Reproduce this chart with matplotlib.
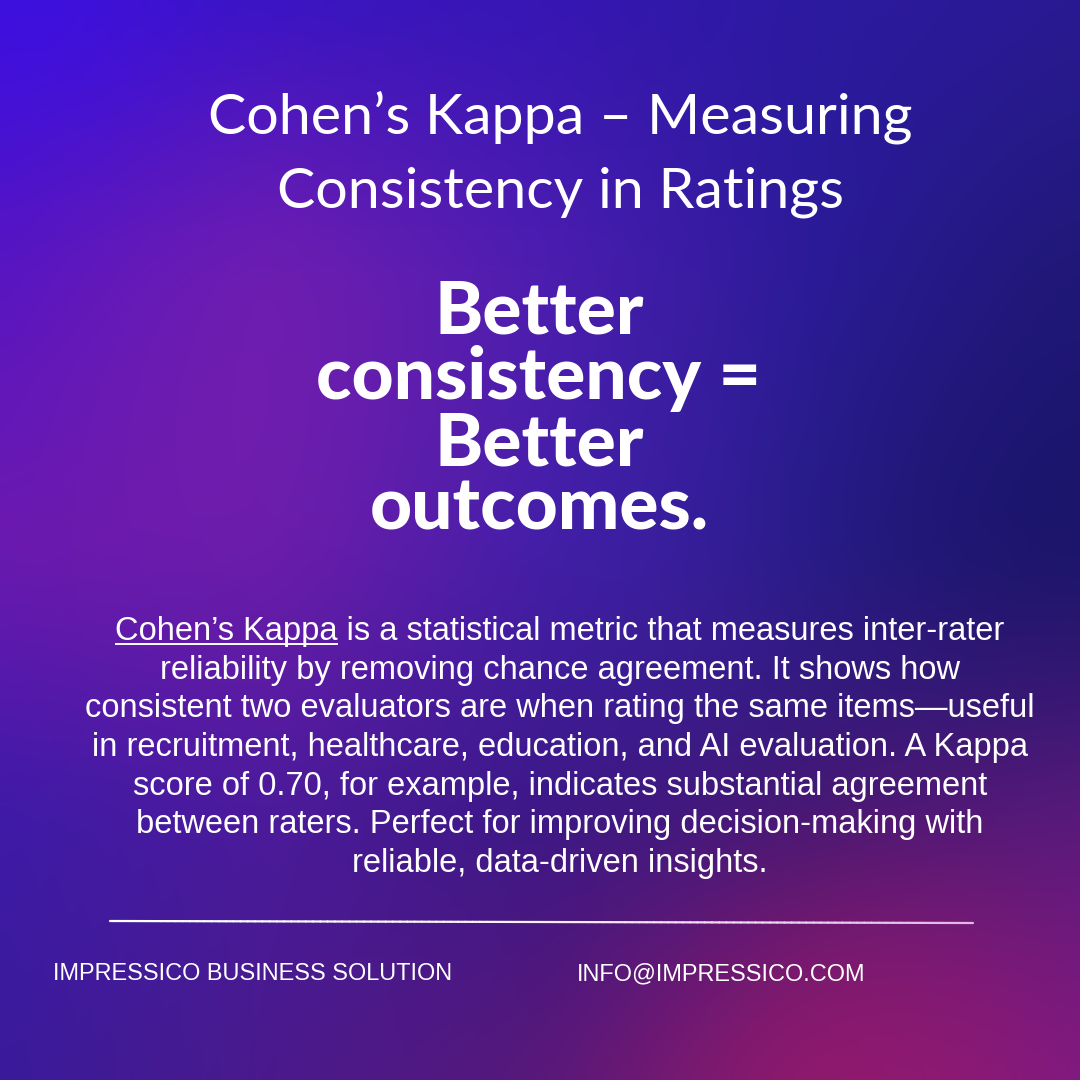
import numpy as np
import matplotlib
matplotlib.use('Agg')
import matplotlib.pyplot as plt
from matplotlib.colors import to_rgb
from matplotlib.collections import LineCollection

# text content of the poster
title_lines = ["Cohen’s Kappa – Measuring", "Consistency in Ratings"]
headline_lines = ["Better", "consistency =", "Better", "outcomes."]
body_lines = [
    "Cohen’s Kappa is a statistical metric that measures inter-rater",
    "reliability by removing chance agreement. It shows how",
    "consistent two evaluators are when rating the same items—useful",
    "in recruitment, healthcare, education, and AI evaluation. A Kappa",
    "score of 0.70, for example, indicates substantial agreement",
    "between raters. Perfect for improving decision-making with",
    "reliable, data-driven insights.",
]
underlined = "Cohen’s Kappa"
footer_left = "IMPRESSICO BUSINESS SOLUTION"
footer_right = "INFO@IMPRESSICO.COM"

# background colour grid (5 x 5 control points, top row first)
bg_grid = [
    ["#3c10d8", "#3a14c4", "#3616b4", "#2c1aa0", "#2a1a92"],
    ["#5414c4", "#6a1cb2", "#4a1cb0", "#2a1a98", "#201878"],
    ["#6a18b0", "#661aa8", "#3c1aa6", "#241a88", "#1c1670"],
    ["#3e1aa8", "#4a1a9a", "#3a1682", "#3c1670", "#561a7c"],
    ["#3a1a9a", "#4a1a8c", "#56187a", "#861a6a", "#7a1a86"],
]

W = 1080
fig = plt.figure(figsize=(10.8, 10.8), dpi=100)
ax = fig.add_axes([0, 0, 1, 1])
ax.set_xlim(0, W)
ax.set_ylim(W, 0)
ax.axis('off')

# build a smooth gradient image from the grid
n = 216
grid = np.array([[to_rgb(c) for c in row] for row in bg_grid])
knots = np.linspace(0, W, grid.shape[0])
px = np.linspace(0, W, n)
tmp = np.array([[np.interp(px, knots, grid[r, :, ch]) for ch in range(3)] for r in range(grid.shape[0])])
img = np.zeros((n, n, 3))
for ch in range(3):
    for j in range(n):
        img[:, j, ch] = np.interp(px, knots, tmp[:, ch, j])

yy, xx = np.meshgrid(px, px, indexing='ij')


def blob(cx, cy, sig, col, k):
    w = k * np.exp(-((xx - cx)**2 + (yy - cy)**2) / (2 * sig**2))
    return img * (1 - w[..., None]) + np.array(to_rgb(col)) * w[..., None]


img = blob(260, 430, 170, "#7a20ae", 0.45)
img = blob(640, 560, 190, "#4a2cb0", 0.25)
img = blob(890, 1070, 150, "#9a1a6e", 0.55)
img = blob(1010, 520, 140, "#16125c", 0.35)
img = blob(40, 20, 90, "#4010e6", 0.5)

# soften the bilinear creases
k = np.exp(-np.linspace(-3, 3, 31)**2 / 2)
k /= k.sum()
pad = 15
for ch in range(3):
    a = np.pad(img[..., ch], pad, mode='edge')
    a = np.apply_along_axis(lambda r: np.convolve(r, k, mode='same'), 0, a)
    a = np.apply_along_axis(lambda r: np.convolve(r, k, mode='same'), 1, a)
    img[..., ch] = a[pad:-pad, pad:-pad]

ax.imshow(np.clip(img, 0, 1), extent=(0, W, W, 0), interpolation='bicubic', aspect='auto', zorder=0)

renderer = fig.canvas.get_renderer()


def text_width(txt, size, **kw):
    t = ax.text(0, 0, txt, fontsize=size, **kw)
    w = t.get_window_extent(renderer).width
    t.remove()
    return w


def fit_size(txt, target, **kw):
    return 10 * target / text_width(txt, 10, **kw)


# title
title_kw = dict(family='Lato', weight='normal')
fs_title = fit_size(title_lines[0], 705, **title_kw)
for txt, yb in zip(title_lines, [133, 208]):
    ax.text(560.5, yb, txt, fontsize=fs_title, color='white', ha='center', va='baseline', **title_kw)

# headline
head_kw = dict(family='Lato', weight='black')
fs_head = fit_size(headline_lines[1], 444, **head_kw)
for txt, yb in zip(headline_lines, [334, 399, 465, 529]):
    ax.text(539, yb, txt, fontsize=fs_head, color='white', ha='center', va='baseline', **head_kw)

# body paragraph
body_kw = dict(family='Liberation Sans')
fs_body = fit_size(body_lines[2], 952, **body_kw)
for i, txt in enumerate(body_lines):
    ax.text(560, 640 + i * 38.7, txt, fontsize=fs_body, color='white', ha='center', va='baseline', **body_kw)

# underline the term at the start of the paragraph
w_full = text_width(body_lines[0], fs_body, **body_kw)
w_ul = text_width(underlined, fs_body, **body_kw)
x0 = 560 - w_full / 2
ax.plot([x0, x0 + w_ul], [644, 644], color='white', lw=1.4, solid_capstyle='butt')

# divider with a slight fade to pink
xs = np.linspace(110, 973, 120)
ys = np.linspace(921, 923, 120)
segs = [[(xs[i], ys[i]), (xs[i + 1], ys[i + 1])] for i in range(len(xs) - 1)]
c0 = np.array(to_rgb('white'))
c1 = np.array(to_rgb('#e2b6e6'))
cols = [c0 + (c1 - c0) * (i / (len(segs) - 1))**2 for i in range(len(segs))]
ax.add_collection(LineCollection(segs, colors=cols, linewidths=1.6, capstyle='round'))

# footer
fs_foot = fit_size(footer_left, 399, **body_kw)
ax.text(53, 980, footer_left, fontsize=fs_foot, color='white', ha='left', va='baseline', **body_kw)
ax.text(577, 980, footer_right, fontsize=fs_foot, color='white', ha='left', va='baseline', **body_kw)

fig.savefig('out.png', dpi=100)
